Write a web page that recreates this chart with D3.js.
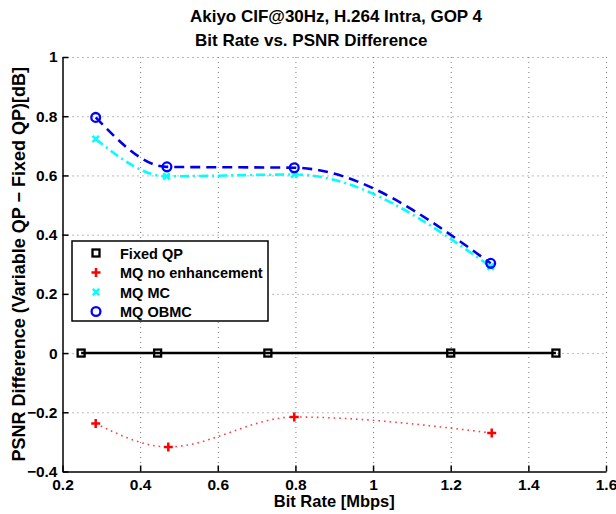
<!DOCTYPE html>
<html>
<head>
<meta charset="utf-8">
<script src="https://cdn.jsdelivr.net/npm/d3@7"></script>
<style>
  body { margin: 0; background: #fff; }
  svg { display: block; font-family: "Liberation Sans", Arial, Helvetica, sans-serif; font-weight: bold; }
</style>
</head>
<body>
<div id="chart"></div>
<script>
// chart values
const seriesNames = ["Fixed QP", "MQ no enhancement", "MQ MC", "MQ OBMC"];
const fixedX = [0.248, 0.445, 0.729, 1.2, 1.471];
const fixedY = [0, 0, 0, 0, 0];
const noEnhX = [0.2855, 0.4725, 0.797, 1.3056];
const noEnhY = [-0.238, -0.317, -0.216, -0.27];
const mcX = [0.2855, 0.468, 0.797, 1.303];
const mcY = [0.723, 0.597, 0.603, 0.292];
const obmcX = [0.2855, 0.469, 0.797, 1.303];
const obmcY = [0.796, 0.629, 0.626, 0.303];
const xTicks = [0.2, 0.4, 0.6, 0.8, 1, 1.2, 1.4, 1.6];
const yTicks = [-0.4, -0.2, 0, 0.2, 0.4, 0.6, 0.8, 1];

const width = 616, height = 514;
const plotLeft = 62.5, plotRight = 606, plotTop = 57, plotBottom = 471.5;

const svg = d3.select("#chart").append("svg")
  .attr("width", width).attr("height", height);

const x = d3.scaleLinear().domain([0.2, 1.6]).range([plotLeft, plotRight]);
const y = d3.scaleLinear().domain([-0.4, 1]).range([plotBottom, plotTop]);

// dotted grid (also closes the plot at top and right)
const grid = svg.append("g").attr("stroke", "#777").attr("stroke-width", 1)
  .attr("stroke-dasharray", "1,4");
grid.selectAll(".gx").data(xTicks.slice(1)).enter().append("line")
  .attr("x1", d => x(d) + 0.5).attr("x2", d => x(d) + 0.5)
  .attr("y1", plotTop).attr("y2", plotBottom);
grid.selectAll(".gy").data(yTicks.slice(1)).enter().append("line")
  .attr("x1", plotLeft).attr("x2", plotRight)
  .attr("y1", d => y(d) + 0.5).attr("y2", d => y(d) + 0.5);

// axes: ticks point inward like matlab
const xAxis = svg.append("g").attr("transform", `translate(0,${plotBottom})`)
  .call(d3.axisBottom(x).tickValues(xTicks).tickSizeInner(-6).tickSizeOuter(0)
    .tickFormat(d3.format("")));
const yAxis = svg.append("g").attr("transform", `translate(${plotLeft},0)`)
  .call(d3.axisLeft(y).tickValues(yTicks).tickSizeInner(-6).tickSizeOuter(0)
    .tickFormat(d => d3.format("")(d).replace("-", "\u2212")));

[xAxis, yAxis].forEach(a => {
  a.select(".domain").attr("stroke", "#000").attr("stroke-width", 1.5);
  a.selectAll(".tick line").attr("stroke", "#000").attr("stroke-width", 1.5);
  a.selectAll("text").attr("fill", "#000").style("font-size", "15.5px")
    .style("font-family", "inherit").style("font-weight", "bold");
});
xAxis.selectAll("text").attr("y", 7);
yAxis.selectAll("text").attr("x", -5);

// curves
const line = d3.line().x(d => x(d[0])).y(d => y(d[1]));
const zip = (a, b) => a.map((v, i) => [v, b[i]]);

svg.append("path").datum(zip(fixedX, fixedY))
  .attr("d", line.curve(d3.curveLinear))
  .attr("fill", "none").attr("stroke", "#000").attr("stroke-width", 2.5);

svg.append("path").datum(zip(noEnhX, noEnhY))
  .attr("d", line.curve(d3.curveMonotoneX))
  .attr("fill", "none").attr("stroke", "#ff4040").attr("stroke-width", 1.6)
  .attr("stroke-dasharray", "1.6,4");

svg.append("path").datum(zip(mcX, mcY))
  .attr("d", line.curve(d3.curveMonotoneX))
  .attr("fill", "none").attr("stroke", "#00ffff").attr("stroke-width", 2.6)
  .attr("stroke-dasharray", "9,4,2,4");

svg.append("path").datum(zip(obmcX, obmcY))
  .attr("d", line.curve(d3.curveMonotoneX))
  .attr("fill", "none").attr("stroke", "#0000e8").attr("stroke-width", 2.6)
  .attr("stroke-dasharray", "10,6");

// markers
function square(g, cx, cy) {
  g.append("rect").attr("x", cx - 3.5).attr("y", cy - 3.5).attr("width", 7).attr("height", 7)
    .attr("fill", "none").attr("stroke", "#000").attr("stroke-width", 2.3);
}
function plus(g, cx, cy) {
  g.append("path").attr("d", `M${cx - 4.5},${cy}H${cx + 4.5}M${cx},${cy - 4.5}V${cy + 4.5}`)
    .attr("stroke", "#ff0000").attr("stroke-width", 2.5);
}
function cross(g, cx, cy) {
  g.append("path").attr("d", `M${cx - 3.2},${cy - 3.2}L${cx + 3.2},${cy + 3.2}M${cx - 3.2},${cy + 3.2}L${cx + 3.2},${cy - 3.2}`)
    .attr("stroke", "#00ffff").attr("stroke-width", 2.5);
}
function ring(g, cx, cy) {
  g.append("circle").attr("cx", cx).attr("cy", cy).attr("r", 4.4)
    .attr("fill", "none").attr("stroke", "#0000ff").attr("stroke-width", 2.3);
}

const marks = svg.append("g");
fixedX.forEach((v, i) => square(marks, x(v), y(fixedY[i])));
noEnhX.forEach((v, i) => plus(marks, x(v), y(noEnhY[i])));
mcX.forEach((v, i) => cross(marks, x(v), y(mcY[i])));
obmcX.forEach((v, i) => ring(marks, x(v), y(obmcY[i])));

// legend
const legend = svg.append("g").attr("transform", "translate(72,241)");
legend.append("rect").attr("width", 196).attr("height", 80)
  .attr("fill", "#fff").attr("stroke", "#000").attr("stroke-width", 1.5);
const markerFns = [square, plus, cross, ring];
seriesNames.forEach((name, i) => {
  const ry = 12 + i * 19.5;
  markerFns[i](legend, 24, ry);
  legend.append("text").attr("x", 48).attr("y", ry + 5.5)
    .style("font-size", "14.5px").text(name);
});

// titles
svg.append("text").attr("x", 336).attr("y", 22).attr("text-anchor", "middle")
  .style("font-size", "17px").text("Akiyo CIF@30Hz, H.264 Intra, GOP 4");
svg.append("text").attr("x", 195).attr("y", 46)
  .style("font-size", "17px").text("Bit Rate vs. PSNR Difference");

svg.append("text").attr("x", (plotLeft + plotRight) / 2).attr("y", 507).attr("text-anchor", "middle")
  .style("font-size", "16.5px").text("Bit Rate [Mbps]");
svg.append("text")
  .attr("transform", `translate(25,${(plotTop + plotBottom) / 2}) rotate(-90)`)
  .attr("text-anchor", "middle")
  .style("font-size", "18px").text("PSNR Difference (Variable QP \u2212 Fixed QP)[dB]");
</script>
</body>
</html>
